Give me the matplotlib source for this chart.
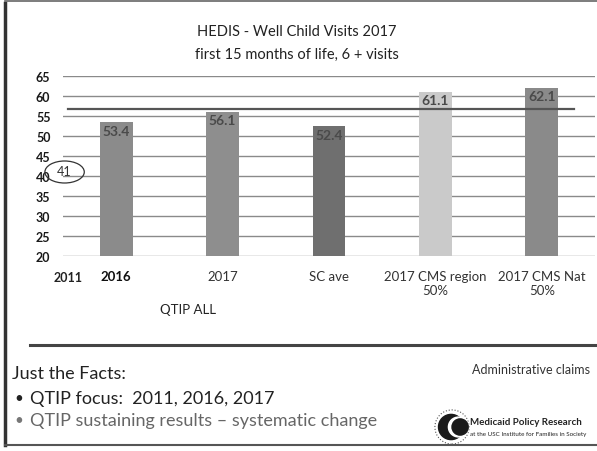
import matplotlib.pyplot as plt
from matplotlib.patches import Ellipse, Circle
import numpy as np

W, H = 597, 452

categories = ["2016", "2017", "SC ave", "2017 CMS region\n50%", "2017 CMS Nat\n50%"]
values = [53.4, 56.1, 52.4, 61.1, 62.1]
bar_colors = ["#8b8b8b", "#8e8e8e", "#6f6f6f", "#cacaca", "#8a8a8a"]
value_2011 = 41
goal_line = 56.75
yticks = [20, 25, 30, 35, 40, 45, 50, 55, 60, 65]

plt.rcParams['font.family'] = ['Lato', 'DejaVu Sans']

fig = plt.figure(figsize=(W / 100, H / 100), dpi=100)


def px(x, y):
    # pixel position (from top-left) -> figure fraction
    return x / W, 1 - y / H


ax = fig.add_axes([63 / W, 1 - 257 / H, 532 / W, 180 / H])
x = np.arange(len(categories))
bars = ax.bar(x, values, width=0.31, color=bar_colors, zorder=2)
for xi, v in zip(x, values):
    ax.text(xi, v - 0.7, f"{v:.1f}", ha='center', va='top', fontsize=10,
            fontweight='bold', color='#4a4a4a', zorder=3)

ax.set_ylim(20, 65)
ax.set_xlim(-0.5, len(categories) - 0.5)
ax.set_yticks(yticks)
ax.yaxis.grid(True, color='#8a8a8a', linewidth=1.0, zorder=0)
ax.set_axisbelow(True)
ax.axhline(goal_line, xmin=0.01, xmax=0.96, color='#555555', linewidth=1.6, zorder=4)
for s in ax.spines.values():
    s.set_visible(False)
ax.tick_params(length=0)
ax.tick_params(axis='y', labelsize=9, pad=9, labelcolor='#1a1a1a')
for lbl in ax.get_yticklabels():
    lbl.set_fontweight('bold')
ax.set_xticks(x)
ax.set_xticklabels(categories, fontsize=9.5, color='#333333')
ax.tick_params(axis='x', pad=10)
for lbl in ax.get_xticklabels()[:1]:
    lbl.set_fontweight('bold')
    lbl.set_color('#111111')

# 2011 result, circled
ell = Ellipse((-0.485, value_2011), 0.37, 5.5, fill=False, edgecolor='#333333',
              linewidth=0.9, clip_on=False, zorder=5)
ax.add_patch(ell)
ax.text(-0.485, value_2011 + 0.3, str(value_2011), ha='center', va='center',
        fontsize=9, color='#333333', clip_on=False)
fig.text(*px(68, 278), "2011", ha='center', va='center', fontsize=9,
         fontweight='bold', color='#222222')
fig.text(*px(188, 310), "QTIP ALL", ha='center', va='center', fontsize=9.5,
         color='#222222')

# titles
fig.text(*px(297, 32), "HEDIS - Well Child Visits 2017", ha='center',
         va='center', fontsize=10.5, color='#222222')
fig.text(*px(297, 55), "first 15 months of life, 6 + visits", ha='center',
         va='center', fontsize=10.5, color='#222222')

# slide frame and divider
fig.add_artist(plt.Line2D([5 / W, 5 / W], [1 - 4 / H, 1 - 446 / H],
                          color='#333333', linewidth=2.5))
fig.add_artist(plt.Line2D([5 / W, 1], [1 - 2 / H, 1 - 2 / H],
                          color='#666666', linewidth=1.2))
fig.add_artist(plt.Line2D([5 / W, 1], [1 - 446 / H, 1 - 446 / H],
                          color='#555555', linewidth=1.5))
fig.add_artist(plt.Line2D([30 / W, 1], [1 - 346 / H, 1 - 346 / H],
                          color='#444444', linewidth=2.2))

# notes
fig.text(*px(12, 374), "Just the Facts:", ha='left', va='center',
         fontsize=13, color='#222222')
fig.text(*px(14, 399), "•", ha='left', va='center', fontsize=11, color='#222222')
fig.text(*px(30, 399), "QTIP focus:  2011, 2016, 2017", ha='left',
         va='center', fontsize=13, color='#222222')
fig.text(*px(14, 421), "•", ha='left', va='center', fontsize=11, color='#777777')
fig.text(*px(30, 421), "QTIP sustaining results – systematic change", ha='left',
         va='center', fontsize=13, color='#666666')
fig.text(*px(590, 370), "Administrative claims", ha='right', va='center',
         fontsize=9, color='#333333')

# logo
logo_ax = fig.add_axes([432 / W, 1 - 446 / H, 40 / W, 36 / H])
logo_ax.set_xlim(-1, 1)
logo_ax.set_ylim(-1, 1)
logo_ax.set_aspect('equal')
logo_ax.axis('off')
logo_ax.add_patch(Circle((0, 0), 0.95, fill=False, edgecolor='#555555',
                         linewidth=0.8, linestyle=':'))
logo_ax.add_patch(Circle((-0.05, 0), 0.7, color='#1a1a1a'))
logo_ax.add_patch(Circle((0.35, 0.0), 0.55, color='white'))
logo_ax.add_patch(Circle((0.45, 0.0), 0.45, color='#1a1a1a'))
fig.text(*px(470, 423), "Medicaid Policy Research", ha='left', va='center',
         fontsize=7, fontweight='bold', color='#222222')
fig.text(*px(470, 435), "at the USC Institute for Families in Society",
         ha='left', va='center', fontsize=4.5, color='#222222')

fig.savefig("out.png", dpi=100, facecolor='white')
